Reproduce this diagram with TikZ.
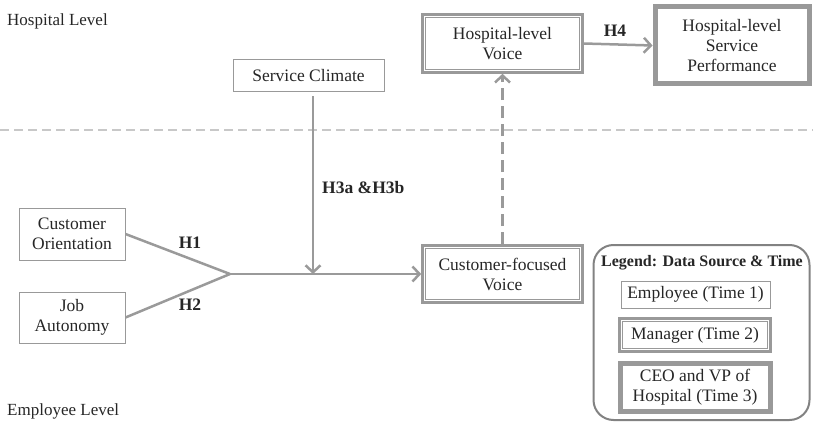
\documentclass[tikz,border=0pt]{standalone}
\usepackage{fontspec}
\setmainfont{Liberation Serif}
\usetikzlibrary{arrows.meta}
\definecolor{ln}{HTML}{9A9A9A}
\definecolor{bd}{HTML}{999999}
\definecolor{sep}{HTML}{C8C8C8}
\definecolor{tx}{HTML}{262626}
\tikzset{
  box/.style={draw=bd, line width=1pt, align=center, inner sep=0pt, text=tx},
  innerline/.style={draw=bd, line width=0.9pt},
  dbox/.style={box, line width=2.6pt},
  tbox/.style={box, line width=5pt},
  arr/.style={draw=ln, line width=2.5pt, -{Straight Barb[length=7pt,width=15pt,line width=2.5pt]}},
  conn/.style={draw=ln, line width=2.5pt},
  hlab/.style={font=\fontsize{17.5}{20}\selectfont\bfseries, text=tx, inner sep=0pt},
  lvl/.style={font=\fontsize{17}{20}\selectfont, text=tx, inner sep=0pt, anchor=west},
}
\begin{document}
\begin{tikzpicture}[x=1pt,y=-1pt, font=\fontsize{17.5}{20}\selectfont]
\useasboundingbox (0,0) rectangle (813,422);
% separator
\draw[sep, line width=2pt, dash pattern=on 9pt off 5pt] (0,130) -- (813,130);
% level labels
\node[lvl] (hl) at (7,21) {Hospital Level};
\node[lvl] (el) at (7,411) {Employee Level};
% nodes
\node[box, minimum width=151pt, minimum height=32pt] (sc) at (308.5,76) {Service Climate};
\node[box, minimum width=106pt, minimum height=52pt] (co) at (72,234) {Customer\\Orientation};
\node[box, minimum width=106pt, minimum height=51pt] (ja) at (72,317.5) {Job\\Autonomy};
\node[dbox, minimum width=160pt, minimum height=57pt] (cfv) at (502.5,274) {Customer-focused\\Voice};
\node[dbox, minimum width=160pt, minimum height=58pt] (hlv) at (502.5,43.5) {Hospital-level\\Voice};
\node[tbox, minimum width=154pt, minimum height=77pt] (hlsp) at (732,45.5) {Hospital-level\\Service\\Performance};
% legend
\node[draw=bd!85!black, line width=2pt, rounded corners=20pt, minimum width=216pt, minimum height=175pt, inner sep=0pt] (leg) at (701.5,332.5) {};
\node[font=\fontsize{16}{18}\selectfont\bfseries, text=tx, inner sep=0pt] (legt) at (702,263) {Legend: Data Source \& Time};
\node[box, minimum width=149pt, minimum height=27pt] (emp) at (695.5,294.5) {Employee (Time 1)};
\node[dbox, minimum width=151pt, minimum height=33pt] (mgr) at (695,335) {Manager (Time 2)};
\node[tbox, minimum width=150pt, minimum height=48pt] (ceo) at (695,387) {CEO and VP of\\Hospital (Time 3)};
% inner lines of the double-bordered boxes
\foreach \n in {cfv,hlv,mgr}
  \draw[innerline] ([xshift=4pt,yshift=-4pt]\n.north west) rectangle ([xshift=-4pt,yshift=4pt]\n.south east);
% connectors
\coordinate (j) at (230,274);
\coordinate (m) at (313,274);
\draw[conn] (co.east) -- (j);
\draw[conn] (ja.east) -- (j);
\draw[arr] (j) -- (cfv.west);
\draw[arr] ([yshift=-4pt]sc.south -| m) -- (m);
\draw[arr, dash pattern=on 12pt off 6pt] (cfv.north) -- (hlv.south);
\draw[arr] (hlv.east) -- (hlsp.west);
% labels
\node[hlab] (h1) at (190,243) {H1};
\node[hlab] (h2) at (190,305) {H2};
\node[hlab, anchor=west] (h3) at (322,188) {H3a \&H3b};
\node[hlab] (h4) at (615,31) {H4};
\end{tikzpicture}
\end{document}
